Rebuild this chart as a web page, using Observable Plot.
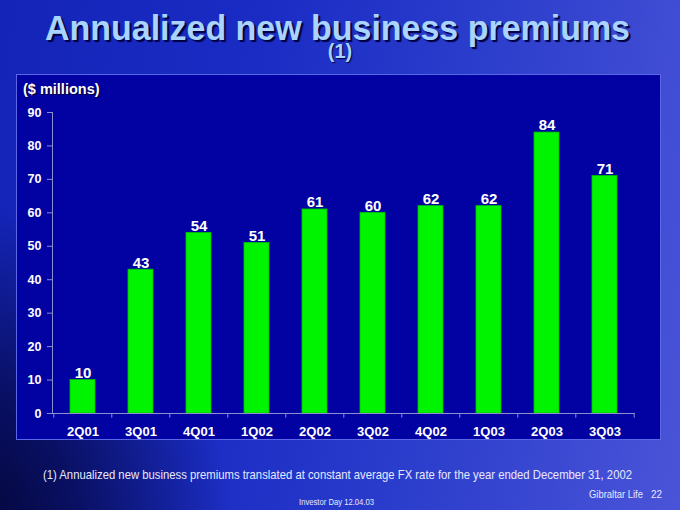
<!DOCTYPE html>
<html>
<head>
<meta charset="utf-8">
<script src="https://cdn.jsdelivr.net/npm/d3@7"></script>
<script src="https://cdn.jsdelivr.net/npm/@observablehq/plot@0.6"></script>
<style>
  html, body { margin: 0; padding: 0; }
  body { width: 680px; height: 510px; overflow: hidden; font-family: "Liberation Sans", Arial, sans-serif; }
  #slide {
    position: relative; width: 680px; height: 510px; overflow: hidden;
    background:
      radial-gradient(ellipse 420px 520px at -60px 560px, rgba(0,0,30,0.95) 0%, rgba(0,0,40,0.6) 35%, rgba(0,0,60,0) 70%),
      linear-gradient(100deg, #1424b8 0%, #1a2cc4 35%, #2c3ecc 65%, #4a54d8 100%);
  }
  .fit { position: absolute; white-space: nowrap; transform-origin: 0 0; }
  #title {
    left: 45px; top: 8px;
    font-weight: bold; font-size: 35px; color: #a8d4ff;
    text-shadow: 2px 2px 1px #000040;
  }
  #sup {
    position: absolute; left: 0; width: 680px; top: 40px; text-align: center;
    font-weight: bold; font-size: 20px; color: #a8d4ff;
    text-shadow: 1px 1px 1px #000040;
  }
  #panel {
    position: absolute; left: 16px; top: 74px; width: 645px; height: 366px;
    background: #0202a2; border: 1px solid #5a68e8; box-sizing: border-box;
  }
  #unit {
    position: absolute; left: 6px; top: 6px; color: #ffffff; font-weight: bold; font-size: 14.5px;
    text-shadow: 1px 1px 1px #000030;
  }
  #chart { position: absolute; left: -1px; top: -1px; }
  #foot { left: 43px; top: 467px; color: #e6e8ff; font-size: 13px; }
  #brand { left: 589px; top: 488px; color: #e6e8ff; font-size: 11px; }
  #page { left: 651px; top: 488px; color: #e6e8ff; font-size: 11px; }
  #event { left: 299px; top: 497px; color: #e6e8ff; font-size: 8.5px; }
  svg text.val { text-shadow: 1px 1px 1px #000020; }
</style>
</head>
<body>
<div id="slide">
  <div id="title" class="fit" data-w="585">Annualized new business premiums</div>
  <div id="sup">(1)</div>
  <div id="panel">
    <div id="chart"></div>
    <div id="unit">($ millions)</div>
  </div>
  <div id="foot" class="fit" data-w="589">(1) Annualized new business premiums translated at constant average FX rate for the year ended December 31, 2002</div>
  <div id="brand" class="fit" data-w="54">Gibraltar Life</div>
  <div id="page" class="fit" data-w="11">22</div>
  <div id="event" class="fit" data-w="75">Investor Day 12.04.03</div>
</div>
<script>
const quarters = ["2Q01","3Q01","4Q01","1Q02","2Q02","3Q02","4Q02","1Q03","2Q03","3Q03"];
const premiums = [10, 43, 54, 51, 61, 60, 62, 62, 84, 71];
const yTicks = [0,10,20,30,40,50,60,70,80,90];

const data = quarters.map((q, i) => ({quarter: q, value: premiums[i]}));
const lastQuarter = [quarters[quarters.length - 1]];
const axisColor = "#8a90d0";

const chart = Plot.plot({
  width: 644,
  height: 365,
  marginLeft: 36,
  marginRight: 25,
  marginTop: 38,
  marginBottom: 26,
  style: {background: "transparent", color: "white", fontFamily: "Liberation Sans, Arial, sans-serif", overflow: "visible"},
  x: {domain: quarters, paddingInner: 0.57, paddingOuter: 0.285, align: 0.5, label: null},
  y: {domain: [0, 90], label: null},
  marks: [
    Plot.barY(data, {x: "quarter", y: "value", fill: "#00f400", stroke: "#00c000", strokeWidth: 0.8}),
    Plot.ruleY([0], {stroke: axisColor, strokeWidth: 1}),
    Plot.frame({anchor: "left", stroke: axisColor, strokeWidth: 1}),
    Plot.ruleX(quarters, {x: d => d, y1: 0, y2: -1.4, dx: -29.2, stroke: axisColor}),
    Plot.ruleX(lastQuarter, {x: d => d, y1: 0, y2: -1.4, dx: 29.2, stroke: axisColor}),
    Plot.axisY({ticks: yTicks, tickSize: 5, tickPadding: 6, stroke: axisColor, fill: "white", fontWeight: "bold", fontSize: 12.5, label: null}),
    Plot.axisX({tickSize: 0, tickPadding: 13, fill: "white", fontWeight: "bold", fontSize: 13, label: null}),
    Plot.text(data, {x: "quarter", y: "value", text: d => String(d.value), dy: -7, fill: "white", fontWeight: "bold", fontSize: 15, className: "val"})
  ]
});
document.getElementById("chart").appendChild(chart);

// squeeze slide texts horizontally to the widths they take on the reference slide
document.querySelectorAll(".fit").forEach(el => {
  const w = el.getBoundingClientRect().width;
  const target = +el.dataset.w;
  if (w > 0) el.style.transform = `scaleX(${target / w})`;
});
</script>
</body>
</html>
